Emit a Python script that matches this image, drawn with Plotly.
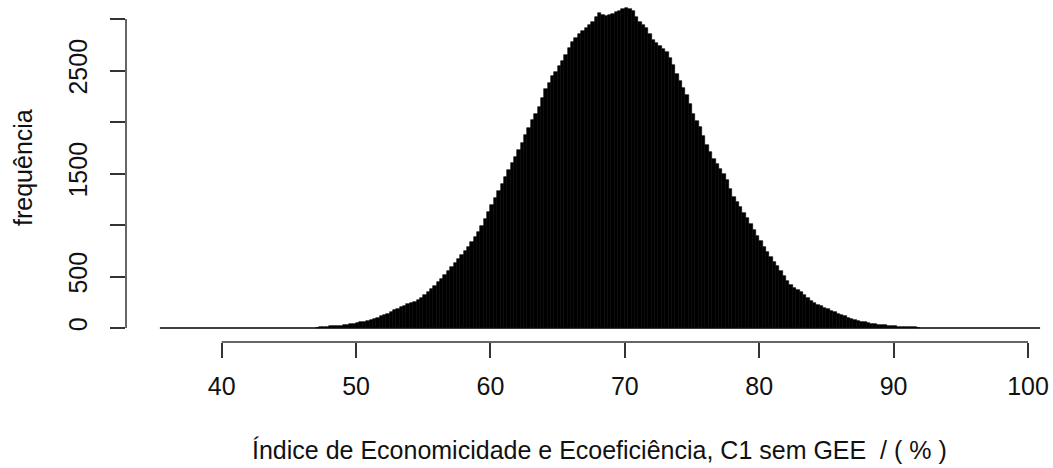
import plotly.graph_objects as go

# Histogram of the C1 index (without GEE): bin left edges and frequencies
BIN_WIDTH = 0.25
FIRST_EDGE = 47.0
counts = [
    4, 8, 11, 13, 15, 18, 20, 24, 27, 30, 36, 41,
    47, 55, 62, 71, 79, 90, 101, 112, 126, 140, 156, 172,
    188, 205, 218, 230, 242, 256, 272, 294, 320, 350, 382, 412,
    446, 478, 512, 550, 590, 628, 668, 708, 748, 790, 832, 880,
    930, 995, 1060, 1128, 1198, 1262, 1330, 1400, 1468, 1534, 1600, 1665,
    1732, 1800, 1872, 1944, 2018, 2080, 2150, 2236, 2318, 2380, 2442, 2490,
    2542, 2596, 2655, 2722, 2780, 2815, 2852, 2880, 2912, 2945, 2972, 3015,
    3060, 3040, 3025, 3035, 3050, 3068, 3082, 3095, 3105, 3098, 3080, 3020,
    2972, 2940, 2910, 2855, 2800, 2765, 2738, 2705, 2678, 2620, 2550, 2470,
    2400, 2330, 2262, 2170, 2080, 2012, 1948, 1862, 1780, 1705, 1640, 1592,
    1540, 1492, 1440, 1352, 1270, 1220, 1170, 1120, 1070, 1010, 950, 895,
    840, 790, 740, 690, 640, 600, 558, 505, 452, 420, 392, 366,
    345, 318, 290, 264, 240, 224, 210, 194, 180, 168, 155, 140,
    125, 112, 100, 90, 80, 70, 62, 55, 48, 43, 39, 34,
    30, 27, 24, 20, 17, 14, 12, 10, 8, 6, 5, 3,
]
bin_left = [FIRST_EDGE + i * BIN_WIDTH for i in range(len(counts))]

# full span of the histogram breaks (empty bins show as a flat line at zero)
BREAKS_START = 35.4
BREAKS_END = 100.9

x_ticks = [40, 50, 60, 70, 80, 90, 100]
y_ticks = [0, 500, 1000, 1500, 2000, 2500, 3000]
y_tick_text = ["0", "500", "", "1500", "", "2500", ""]

x_title = "Índice de Economicidade e Ecoeficiência, C1 sem GEE  / ( % )"
y_title = "frequência"

FONT = "Liberation Sans, Arial, sans-serif"
FS = 25

W, H = 1053, 468
L, B = 126, 126          # plot area: left edge at the y axis, bottom at the x axis line
PX_PER_X = 806.3 / 60.0  # horizontal scale
X0_PX = 221.7            # pixel position of x = 40
Y0_PX = 328.0            # pixel position of y = 0
PX_PER_Y = 309.0 / 3000.0
TITLE_CENTER_PX = 599    # x title is centred on the full plotting region

plot_h = H - B
x_lo = 40 - (X0_PX - L) / PX_PER_X
x_hi = 40 + (W - X0_PX) / PX_PER_X
y_lo = -(plot_h - Y0_PX) / PX_PER_Y
y_hi = Y0_PX / PX_PER_Y

fig = go.Figure()
fig.add_trace(go.Scatter(
    x=[BREAKS_START, BREAKS_END], y=[0, 0], mode="lines",
    line=dict(color="black", width=1.3), hoverinfo="skip", showlegend=False,
))
fig.add_trace(go.Bar(
    x=[b + BIN_WIDTH / 2 for b in bin_left], y=counts, width=BIN_WIDTH,
    marker=dict(color="black", line=dict(color="black", width=0.6)),
    showlegend=False,
))

# R-style axis lines spanning only the tick range
fig.add_shape(type="line", xref="x", yref="paper", x0=x_ticks[0], x1=x_ticks[-1],
              y0=0, y1=0, line=dict(color="#333333", width=1.5))
fig.add_shape(type="line", xref="paper", yref="y", x0=0, x1=0,
              y0=y_ticks[0], y1=y_ticks[-1], line=dict(color="#333333", width=1.5))

fig.update_layout(
    width=W, height=H,
    margin=dict(l=L, r=0, t=0, b=B, pad=0),
    plot_bgcolor="white", paper_bgcolor="white",
    bargap=0,
    font=dict(family=FONT, size=FS, color="black"),
    xaxis=dict(range=[x_lo, x_hi], tickvals=x_ticks, ticks="outside", ticklen=15,
               tickwidth=1.5, tickcolor="#333333", showgrid=False, zeroline=False,
               showline=False, tickfont=dict(size=FS, color="#111111"),
               ticklabelstandoff=7, fixedrange=True),
    yaxis=dict(range=[y_lo, y_hi], tickvals=y_ticks, ticktext=y_tick_text,
               ticks="outside", ticklen=15, tickwidth=1.5, tickcolor="#333333",
               tickangle=-90, showgrid=False, zeroline=False, showline=False,
               tickfont=dict(size=FS, color="#111111"), ticklabelstandoff=13,
               fixedrange=True),
    annotations=[
        dict(text=x_title, xref="paper", yref="paper", x=0, xshift=TITLE_CENTER_PX - L,
             y=0, yshift=-(450 - plot_h), xanchor="center", yanchor="middle",
             showarrow=False, font=dict(size=FS, color="#111111")),
        dict(text=y_title, xref="paper", yref="paper", x=0, xshift=-(L - 23),
             y=0.5, yshift=3, xanchor="center", yanchor="middle", textangle=-90,
             showarrow=False, font=dict(size=FS, color="#111111")),
    ],
)

fig.write_html("out.html")
